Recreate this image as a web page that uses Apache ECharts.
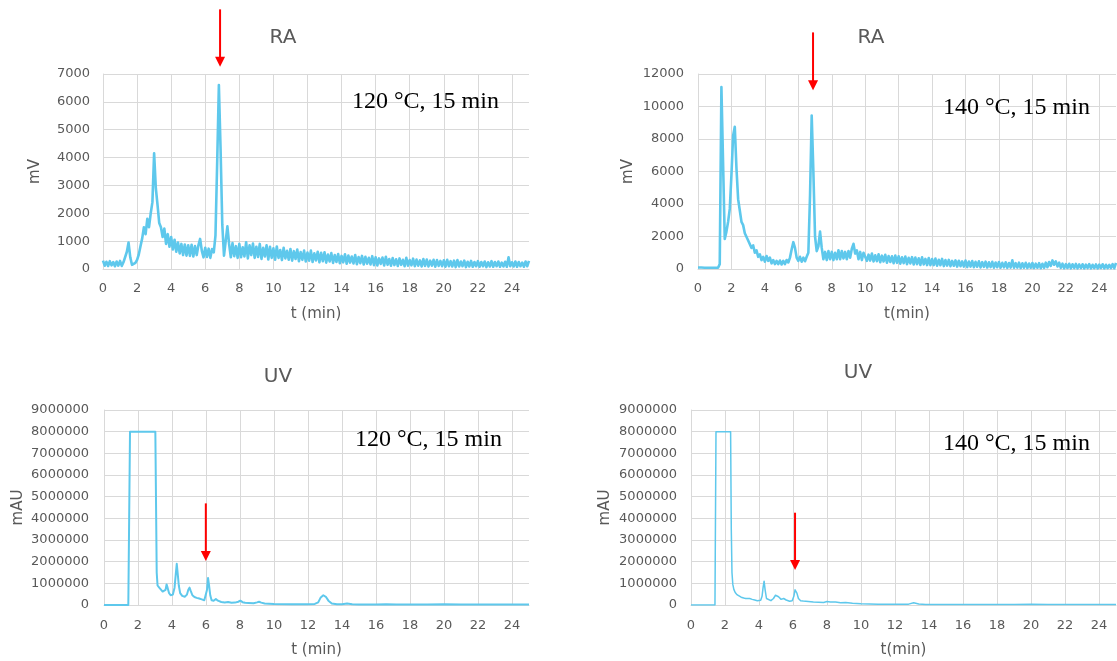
<!DOCTYPE html>
<html>
<head>
<meta charset="utf-8">
<title>RA / UV chromatograms</title>
<script src="https://cdn.jsdelivr.net/npm/echarts@6.0.0/dist/echarts.min.js"></script>
<style>
  html, body { margin: 0; padding: 0; background: #fff; }
  #main { width: 1117px; height: 661px; }
</style>
</head>
<body>
<div id="main"></div>
<script>
// RA detector traces are sampled every 0.1 min, from 0 to 25 min
const RA_STEP = 0.1

const ra120 = [
  300, 120, 260, 110, 280, 130, 250, 100, 270, 120,
  290, 110, 240, 200, 620, 950, 420, 150, 100, 220,
  330, 520, 820, 1100, 1500, 1250, 1800, 1500, 2000, 2400,
  4150, 2900, 2300, 1650, 1500, 1150, 1450, 900, 1250, 800,
  1150, 700, 1050, 620, 950, 560, 900, 500, 880, 480,
  850, 470, 870, 450, 820, 500, 850, 1080, 650, 420,
  760, 430, 730, 400, 720, 600, 1200, 3800, 6600, 4300,
  1600, 480, 1000, 1530, 900, 420, 930, 460, 820, 400,
  900, 420, 780, 450, 960, 380, 850, 500, 910, 400,
  800, 430, 900, 360, 760, 450, 850, 340, 800, 400,
  740, 330, 810, 400, 680, 320, 760, 380, 650, 330,
  720, 300, 640, 360, 700, 280, 610, 330, 660, 270,
  590, 300, 660, 250, 560, 310, 620, 240, 580, 280,
  600, 230, 520, 270, 570, 220, 500, 250, 540, 210,
  470, 240, 530, 190, 480, 230, 450, 200, 500, 170,
  430, 210, 470, 160, 440, 190, 400, 160, 460, 140,
  420, 130, 380, 180, 410, 130, 440, 150, 360, 120,
  390, 140, 350, 110, 380, 150, 330, 100, 400, 120,
  320, 130, 370, 100, 340, 120, 310, 90, 360, 110,
  340, 90, 300, 120, 330, 80, 320, 110, 290, 100,
  310, 80, 330, 100, 280, 90, 300, 70, 320, 90,
  270, 100, 300, 70, 260, 90, 290, 80, 250, 100,
  280, 80, 250, 100, 270, 70, 240, 90, 280, 80,
  250, 100, 270, 80, 230, 90, 260, 80, 420, 100,
  240, 90, 270, 80, 250, 100, 230, 80, 270, 100,
  290
]

const ra140 = [
  90, 80, 90, 70, 80, 90, 80, 70, 80, 90,
  80, 70, 80, 300, 11200, 6500, 1850, 2300, 2900, 3700,
  5800, 8200, 8750, 6200, 4300, 3600, 2900, 2700, 2200, 2100,
  1750, 1800, 1300, 1450, 1000, 1150, 750, 900, 550, 750,
  450, 800, 500, 700, 350, 550, 300, 500, 300, 520,
  280, 500, 300, 550, 400, 700, 1200, 1650, 1300, 700,
  500, 750, 450, 700, 480, 750, 1000, 4500, 9450, 6000,
  2000, 1100, 1400, 2300, 1300, 600, 1050, 550, 1100, 600,
  1050, 550, 1000, 600, 1150, 600, 1100, 650, 1050, 600,
  1100, 700, 1250, 1550, 950, 1150, 600, 1050, 550, 1000,
  980, 500, 880, 520, 950, 460, 840, 480, 900, 420,
  820, 460, 870, 390, 800, 430, 780, 360, 830, 380,
  780, 320, 720, 360, 770, 300, 690, 340, 730, 280,
  700, 300, 660, 250, 720, 280, 620, 240, 670, 230,
  610, 240, 640, 200, 570, 230, 620, 180, 550, 210,
  560, 170, 500, 200, 530, 150, 510, 170, 470, 150,
  520, 120, 460, 150, 490, 110, 440, 140, 470, 100,
  420, 130, 450, 90, 410, 120, 440, 80, 400, 110,
  430, 80, 380, 100, 410, 70, 370, 90, 530, 80,
  360, 90, 390, 60, 350, 80, 380, 60, 340, 80,
  370, 60, 330, 80, 360, 50, 320, 70, 390, 110,
  430, 190, 530, 260, 470, 160, 390, 70, 330, 50,
  300, 60, 320, 40, 290, 60, 310, 40, 280, 60,
  290, 40, 270, 60, 300, 40, 260, 50, 280, 40,
  270, 60, 290, 40, 260, 50, 250, 60, 300, 50,
  380
]

const uvTime120 = [
  0, 1.43, 1.53, 3.02, 3.1, 3.15, 3.25, 3.35, 3.45, 3.55,
  3.62, 3.68, 3.74, 3.82, 3.92, 4.05, 4.15, 4.22, 4.28, 4.33,
  4.4, 4.48, 4.6, 4.75, 4.88, 4.96, 5.03, 5.1, 5.2, 5.32,
  5.45, 5.6, 5.75, 5.9, 6.0, 6.06, 6.12, 6.18, 6.25, 6.33,
  6.45, 6.58, 6.7, 6.9, 7.1, 7.3, 7.5, 7.7, 7.9, 8.02,
  8.15, 8.3, 8.5, 8.8, 9.0, 9.12, 9.25, 9.45, 9.7, 10,
  11, 12, 12.4, 12.6, 12.75, 12.9, 13.05, 13.2, 13.4, 13.7,
  14.0, 14.3, 14.6, 15, 16, 16.6, 17.2, 18, 19, 20,
  21, 22, 23, 24, 25
]
const uvVal120 = [
  0, 0, 8000000, 8000000, 1500000, 900000, 800000, 720000, 620000, 600000,
  700000, 950000, 800000, 560000, 450000, 480000, 800000, 1400000, 1900000, 1500000,
  900000, 550000, 420000, 380000, 480000, 700000, 800000, 650000, 450000, 370000,
  330000, 300000, 260000, 220000, 300000, 700000, 1250000, 900000, 450000, 220000,
  200000, 280000, 200000, 140000, 120000, 140000, 100000, 110000, 150000, 200000,
  130000, 100000, 90000, 80000, 120000, 150000, 110000, 70000, 60000, 50000,
  40000, 40000, 50000, 120000, 350000, 450000, 380000, 200000, 70000, 30000,
  30000, 70000, 30000, 20000, 20000, 40000, 20000, 20000, 20000, 30000,
  20000, 20000, 20000, 20000, 20000
]

const uvTime140 = [
  0, 1.41, 1.47, 2.33, 2.37, 2.41, 2.46, 2.52, 2.6, 2.7,
  2.8, 2.95, 3.1, 3.22, 3.33, 3.45, 3.6, 3.75, 3.9, 4.0,
  4.1, 4.18, 4.24, 4.3, 4.36, 4.44, 4.55, 4.7, 4.85, 4.97,
  5.05, 5.15, 5.3, 5.45, 5.6, 5.8, 5.95, 6.05, 6.12, 6.17,
  6.23, 6.32, 6.45, 6.6, 6.9, 7.2, 7.5, 7.8, 8.0, 8.2,
  8.5, 8.8, 9.1, 9.5, 10, 11, 12, 12.8, 13.1, 13.4,
  13.8, 15, 17, 19, 20, 21, 23, 25
]
const uvVal140 = [
  0, 0, 8000000, 8000000, 3500000, 1500000, 950000, 720000, 580000, 480000,
  420000, 360000, 320000, 300000, 350000, 300000, 260000, 230000, 200000, 180000,
  220000, 400000, 800000, 1100000, 700000, 300000, 230000, 200000, 300000, 450000,
  500000, 380000, 260000, 300000, 230000, 170000, 200000, 400000, 700000, 750000,
  550000, 300000, 200000, 180000, 160000, 140000, 130000, 120000, 160000, 140000,
  140000, 100000, 110000, 80000, 60000, 40000, 30000, 40000, 100000, 50000,
  20000, 20000, 20000, 20000, 30000, 20000, 20000, 20000
]

const titles = ['RA', 'RA', 'UV', 'UV']
const conditions = ['120 °C, 15 min', '140 °C, 15 min', '120 °C, 15 min', '140 °C, 15 min']
const xNames = ['t (min)', 't(min)', 't (min)', 't(min)']
const yNames = ['mV', 'mV', 'mAU', 'mAU']
const yMax = [7000, 12000, 9000000, 9000000]
const yStep = [1000, 2000, 1000000, 1000000]

// red arrows: time, value at the tail, value at the tip
const arrowT = [6.87, 6.88, 5.99, 6.12]
const arrowFrom = [9320, 14560, 4690000, 4260000]
const arrowTo = [7260, 11000, 2030000, 1620000]

const TRACE = '#5ec8ec'
const GRID_LINE = '#d9d9d9'
const LABEL = '#595959'
const SANS = 'DejaVu Sans'

const grids = [
  { left: 103, top: 74, width: 426, height: 195 },
  { left: 698, top: 74, width: 418, height: 195 },
  { left: 104, top: 410, width: 425, height: 195 },
  { left: 691, top: 410, width: 425, height: 195 }
]
const titlePos = [[283, 38], [871, 38], [278, 377], [858, 373]]
const condPos = [[352, 102], [943, 108], [355, 440], [943, 444]]
const yLabelMargin = [13, 14, 15, 14]
const yNameGap = [60, 62, 78, 78]
const xLabelMargin = [13, 13, 14, 14]
const lineWidths = [2.6, 2.6, 2, 1.5]

const raPairs = vals => vals.map((v, i) => [+(i * RA_STEP).toFixed(1), v])
const zip = (t, v) => t.map((x, i) => [x, v[i]])
const seriesData = [raPairs(ra120), raPairs(ra140), zip(uvTime120, uvVal120), zip(uvTime140, uvVal140)]

const chart = echarts.init(document.getElementById('main'))

const option = {
  animation: false,
  backgroundColor: '#ffffff',
  grid: grids,
  xAxis: grids.map((g, i) => ({
    gridIndex: i,
    type: 'value',
    min: 0,
    max: 25,
    interval: 2,
    name: xNames[i],
    nameLocation: 'middle',
    nameGap: 38,
    nameTextStyle: { color: LABEL, fontFamily: SANS, fontSize: 15 },
    axisLine: { show: true, lineStyle: { color: GRID_LINE, width: 1 } },
    axisTick: { show: false },
    axisLabel: { color: LABEL, fontFamily: SANS, fontSize: 13, margin: xLabelMargin[i], showMaxLabel: false },
    splitLine: { show: true, showMaxLine: false, lineStyle: { color: GRID_LINE, width: 1 } }
  })),
  yAxis: grids.map((g, i) => ({
    gridIndex: i,
    type: 'value',
    min: 0,
    max: yMax[i],
    interval: yStep[i],
    name: yNames[i],
    nameLocation: 'middle',
    nameGap: yNameGap[i],
    nameTextStyle: { color: LABEL, fontFamily: SANS, fontSize: 15 },
    axisLine: { show: true, lineStyle: { color: GRID_LINE, width: 1 } },
    axisTick: { show: false },
    axisLabel: { color: LABEL, fontFamily: SANS, fontSize: 13, margin: yLabelMargin[i], formatter: v => String(v) },
    splitLine: { show: true, lineStyle: { color: GRID_LINE, width: 1 } }
  })),
  series: seriesData.map((d, i) => ({
    type: 'line',
    xAxisIndex: i,
    yAxisIndex: i,
    data: d,
    showSymbol: false,
    symbol: 'none',
    lineStyle: { color: TRACE, width: lineWidths[i], join: 'round' },
    itemStyle: { color: TRACE },
    silent: true
  }))
}

chart.setOption(option)

// texts and red arrows on top of the grids
const graphic = []
titles.forEach((t, i) => {
  graphic.push({
    type: 'text',
    style: { x: titlePos[i][0], y: titlePos[i][1], text: t, fill: LABEL, font: '20px "DejaVu Sans"', align: 'center', verticalAlign: 'middle' }
  })
  graphic.push({
    type: 'text',
    style: { x: condPos[i][0], y: condPos[i][1], text: conditions[i], fill: '#000', font: '24px "Liberation Serif"', align: 'left', verticalAlign: 'middle' }
  })
})
arrowT.forEach((t, i) => {
  const p0 = chart.convertToPixel({ gridIndex: i }, [t, arrowFrom[i]])
  const p1 = chart.convertToPixel({ gridIndex: i }, [t, arrowTo[i]])
  graphic.push({
    type: 'line',
    z: 100,
    shape: { x1: p0[0], y1: p0[1], x2: p1[0], y2: p1[1] - 8 },
    style: { stroke: '#ff0000', lineWidth: 2 }
  })
  graphic.push({
    type: 'polygon',
    z: 100,
    shape: { points: [[p1[0] - 5, p1[1] - 10], [p1[0] + 5, p1[1] - 10], [p1[0], p1[1]]] },
    style: { fill: '#ff0000' }
  })
})
chart.setOption({ graphic: graphic })
</script>
</body>
</html>
